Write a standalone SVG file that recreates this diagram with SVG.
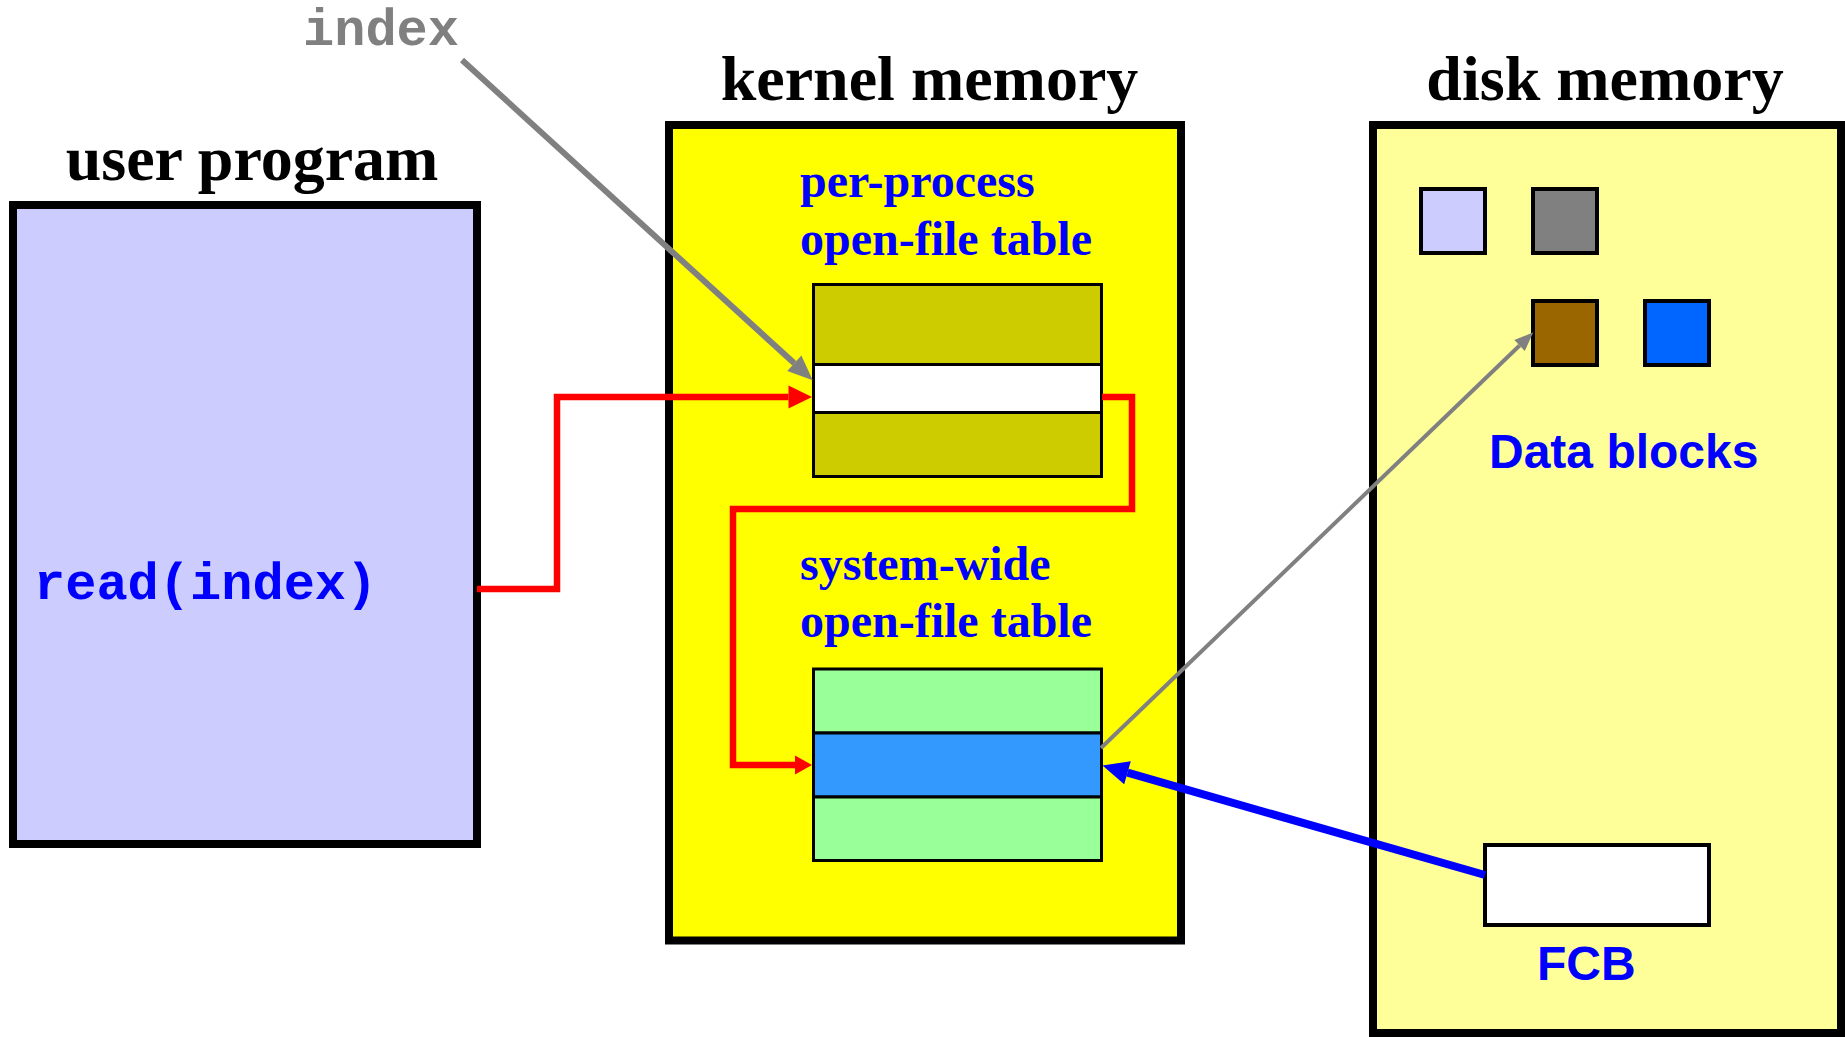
<svg xmlns="http://www.w3.org/2000/svg" width="1845" height="1037" viewBox="0 0 1845 1037">
<style>
.title{font-family:"Liberation Serif","Times New Roman",serif;font-weight:bold;font-size:64px;fill:#000;text-anchor:middle}
.btitle{font-family:"Liberation Serif","Times New Roman",serif;font-weight:bold;font-size:48px;fill:#0000FF}
.sans{font-family:"Liberation Sans",Arial,sans-serif;font-weight:bold;font-size:48px;fill:#0000FF}
.mono{font-family:"Liberation Mono","Courier New",monospace;font-weight:bold;font-size:52px}
.box{stroke:#000;stroke-width:8}
.cell{stroke:#000;stroke-width:3}
.blk{stroke:#000;stroke-width:4}
.red{fill:none;stroke:#FF0000;stroke-width:6.5}
</style>
<defs>
<marker id="redBig" markerUnits="userSpaceOnUse" markerWidth="30" markerHeight="30" refX="0" refY="0" orient="auto" overflow="visible"><path d="M0,-11.5 L23.5,0 L0,11.5 z" fill="#FF0000"/></marker>
<marker id="redSmall" markerUnits="userSpaceOnUse" markerWidth="30" markerHeight="30" refX="0" refY="0" orient="auto" overflow="visible"><path d="M0,-9.5 L17,0 L0,9.5 z" fill="#FF0000"/></marker>
<marker id="grayHead" markerUnits="userSpaceOnUse" markerWidth="30" markerHeight="30" refX="0" refY="0" orient="auto" overflow="visible"><path d="M0,-10.5 L25,0 L0,10.5 z" fill="#808080"/></marker>
<marker id="grayHead2" markerUnits="userSpaceOnUse" markerWidth="30" markerHeight="30" refX="0" refY="0" orient="auto" overflow="visible"><path d="M0,-7.5 L19,0 L0,7.5 z" fill="#808080"/></marker>
<marker id="blueHead" markerUnits="userSpaceOnUse" markerWidth="30" markerHeight="30" refX="0" refY="0" orient="auto" overflow="visible"><path d="M0,-12 L26,0 L0,12 z" fill="#0000FF"/></marker>
</defs>
<rect width="1845" height="1037" fill="#FFFFFF"/>

<g id="user-program">
<text class="title" x="252" y="180">user program</text>
<rect class="box" x="13" y="205" width="464" height="639" fill="#CCCCFF"/>
<text class="mono" x="34" y="599" fill="#0000FF">read(index)</text>
</g>

<g id="index-label">
<text class="mono" x="303" y="45" fill="#808080">index</text>
</g>

<g id="kernel-memory">
<text class="title" x="929.5" y="100">kernel memory</text>
<rect class="box" x="669" y="125" width="512" height="815.5" fill="#FFFF00"/>
</g>

<g id="per-process-table">
<text class="btitle" x="800" y="197">per-process</text>
<text class="btitle" x="800" y="255">open-file table</text>
<rect class="cell" x="813.5" y="284.5" width="288" height="80" fill="#CCCC00"/>
<rect class="cell" x="813.5" y="364.5" width="288" height="48" fill="#FFFFFF"/>
<rect class="cell" x="813.5" y="412.5" width="288" height="64" fill="#CCCC00"/>
</g>

<g id="system-wide-table">
<text class="btitle" x="800" y="580">system-wide</text>
<text class="btitle" x="800" y="637">open-file table</text>
<rect class="cell" x="813.5" y="669" width="288" height="64" fill="#99FF99"/>
<rect class="cell" x="813.5" y="733" width="288" height="64" fill="#3399FF"/>
<rect class="cell" x="813.5" y="797" width="288" height="63.5" fill="#99FF99"/>
</g>

<g id="disk-memory">
<text class="title" x="1605" y="100">disk memory</text>
<rect class="box" x="1373" y="125" width="468" height="908" fill="#FFFF99"/>
</g>

<g id="data-blocks">
<rect class="blk" x="1421" y="189" width="64" height="64" fill="#CCCCFF"/>
<rect class="blk" x="1533" y="189" width="64" height="64" fill="#808080"/>
<rect class="blk" x="1533" y="301" width="64" height="64" fill="#996600"/>
<rect class="blk" x="1645" y="301" width="64" height="64" fill="#0066FF"/>
<text class="sans" x="1489" y="468">Data blocks</text>
</g>

<g id="fcb">
<rect class="blk" x="1485" y="845" width="224" height="80" fill="#FFFFFF"/>
<text class="sans" x="1537" y="980">FCB</text>
</g>

<g id="connectors">
<path class="red" d="M477,589 H557 V397 H788.5" marker-end="url(#redBig)"/>
<path class="red" d="M1102,397 H1132 V509 H733 V765 H795" marker-end="url(#redSmall)"/>
<path d="M462,60 L794.3,363.3" stroke="#808080" stroke-width="6" fill="none" marker-end="url(#grayHead)"/>
<path d="M1101,748 L1519.6,345.5" stroke="#808080" stroke-width="4" fill="none" marker-end="url(#grayHead2)"/>
<path d="M1485,875 L1127.5,772.7" stroke="#0000FF" stroke-width="8" fill="none" marker-end="url(#blueHead)"/>
</g>
</svg>
